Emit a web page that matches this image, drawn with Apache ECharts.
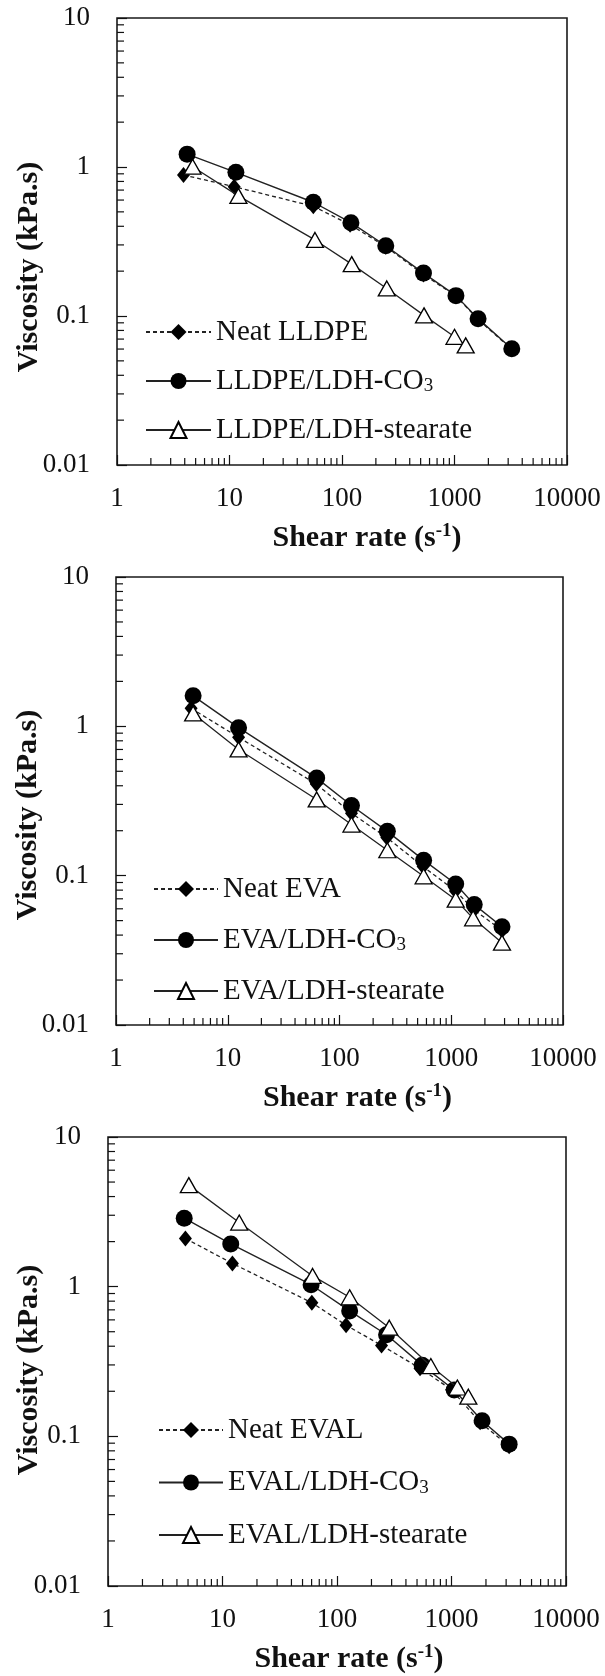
<!DOCTYPE html>
<html>
<head>
<meta charset="utf-8">
<script src="https://cdn.jsdelivr.net/npm/echarts@6.0.0/dist/echarts.min.js"></script>
<style>
  html, body { margin: 0; padding: 0; background: #ffffff; }
  #chart { width: 605px; height: 1676px; }
</style>
</head>
<body>
<div id="chart"></div>
<script>
// Steady-shear viscosity curves: shear rate (s^-1) vs viscosity (kPa.s)

// LLDPE system
const lldpeNeatRate = [3.9, 11.0, 55.6, 118, 245, 530, 1030, 1620, 3200];
const lldpeNeatVisc = [0.884, 0.738, 0.545, 0.41, 0.292, 0.19, 0.136, 0.095, 0.06];
const lldpeCo3Rate = [4.2, 11.4, 55.6, 120, 245, 530, 1030, 1620, 3230];
const lldpeCo3Visc = [1.22, 0.921, 0.58, 0.423, 0.296, 0.194, 0.137, 0.096, 0.0603];
const lldpeStRate = [4.7, 12.0, 57.5, 122, 250, 536, 1000, 1257];
const lldpeStVisc = [1.005, 0.64, 0.324, 0.223, 0.153, 0.101, 0.0725, 0.0635];

// EVA system
const evaNeatRate = [4.7, 12.5, 62, 128, 265, 560, 1090, 1600, 2850];
const evaNeatVisc = [1.32, 0.844, 0.411, 0.262, 0.18, 0.115, 0.079, 0.059, 0.043];
const evaCo3Rate = [4.9, 12.5, 62.5, 128, 268, 566, 1096, 1606, 2845];
const evaCo3Visc = [1.6, 0.98, 0.45, 0.295, 0.198, 0.127, 0.088, 0.064, 0.0455];
const evaStRate = [4.9, 12.5, 62.5, 128, 268, 566, 1096, 1570, 2845];
const evaStVisc = [1.22, 0.70, 0.324, 0.220, 0.148, 0.099, 0.069, 0.0518, 0.0356];

// EVAL system
const evalNeatRate = [4.74, 12.2, 60.3, 120, 245, 531, 1001, 1778, 3187];
const evalNeatVisc = [2.10, 1.43, 0.781, 0.553, 0.405, 0.285, 0.205, 0.124, 0.086];
const evalCo3Rate = [4.63, 11.8, 59.4, 129, 271, 554, 1056, 1850, 3187];
const evalCo3Visc = [2.87, 1.93, 1.03, 0.689, 0.477, 0.299, 0.204, 0.127, 0.0887];
const evalStRate = [5.08, 14.0, 61.2, 129, 286, 660, 1125, 1403];
const evalStVisc = [4.77, 2.68, 1.18, 0.849, 0.532, 0.295, 0.212, 0.184];

// Series names (legend text)
const lldpeNames = ['Neat LLDPE', 'LLDPE/LDH-CO3', 'LLDPE/LDH-stearate'];
const evaNames = ['Neat EVA', 'EVA/LDH-CO3', 'EVA/LDH-stearate'];
const evalNames = ['Neat EVAL', 'EVAL/LDH-CO3', 'EVAL/LDH-stearate'];

// Axis ticks
const xTickLabels = ['1', '10', '100', '1000', '10000'];
const yTickLabels = ['0.01', '0.1', '1', '10'];
const minorMultipliers = [2, 3, 4, 5, 6, 7, 8, 9];

const SERIF = "'Liberation Serif', 'Times New Roman', serif";
const INK = '#111111';

const xDecades = xTickLabels.slice(0, -1).map(Number);
const yDecades = yTickLabels.slice(0, -1).map(Number);
const xMin = Number(xTickLabels[0]), xMax = Number(xTickLabels[xTickLabels.length - 1]);
const yMin = Number(yTickLabels[0]), yMax = Number(yTickLabels[yTickLabels.length - 1]);

function pairs(xs, ys) { return xs.map((x, i) => [x, ys[i]]); }

// Minor tick marks on a log axis: kind 0 = bottom axis, kind 1 = left axis
const minorTickData = [];
xDecades.forEach(d => minorMultipliers.forEach(m => minorTickData.push([+(d * m).toPrecision(6), yMin, 0])));
yDecades.forEach(d => minorMultipliers.forEach(m => minorTickData.push([xMin, +(d * m).toPrecision(6), 1])));

function renderMinorTick(params, api) {
  const kind = api.value(2);
  const p = api.coord([api.value(0), api.value(1)]);
  const len = 7;
  const shape = kind === 0
    ? { x1: p[0], y1: p[1], x2: p[0], y2: p[1] - len }
    : { x1: p[0], y1: p[1], x2: p[0] + len, y2: p[1] };
  return { type: 'line', shape: shape, style: { stroke: INK, lineWidth: 1.2 } };
}

const panels = [
  { grid: { left: 117, top: 18, width: 450, height: 447 }, yTitle: [29, 267], xShift: 25,
    legend: { left: 145, top: 317, itemWidth: 65, itemGap: 19 }, names: lldpeNames,
    data: [pairs(lldpeNeatRate, lldpeNeatVisc), pairs(lldpeCo3Rate, lldpeCo3Visc), pairs(lldpeStRate, lldpeStVisc)] },
  { grid: { left: 116, top: 577, width: 447, height: 448 }, yTitle: [28, 815], xShift: 18,
    legend: { left: 153, top: 874, itemWidth: 64, itemGap: 21 }, names: evaNames,
    data: [pairs(evaNeatRate, evaNeatVisc), pairs(evaCo3Rate, evaCo3Visc), pairs(evaStRate, evaStVisc)] },
  { grid: { left: 108, top: 1137, width: 458, height: 449 }, yTitle: [29, 1370], xShift: 12,
    legend: { left: 158, top: 1415, itemWidth: 64, itemGap: 22.5 }, names: evalNames,
    data: [pairs(evalNeatRate, evalNeatVisc), pairs(evalCo3Rate, evalCo3Visc), pairs(evalStRate, evalStVisc)] }
];

const styles = [
  { symbol: 'diamond', symbolSize: [13, 16], itemStyle: { color: '#000', borderColor: '#000', borderWidth: 0 },
    lineStyle: { color: '#222', width: 1.3, type: [4, 3] } },
  { symbol: 'circle', symbolSize: 17, itemStyle: { color: '#000', borderColor: '#000', borderWidth: 0 },
    lineStyle: { color: '#222', width: 1.4, type: 'solid' } },
  { symbol: 'triangle', symbolSize: [17, 15], itemStyle: { color: '#ffffff', borderColor: '#000', borderWidth: 1.3 },
    lineStyle: { color: '#222', width: 1.3, type: 'solid' } }
];

const option = {
  animation: false,
  backgroundColor: '#ffffff',
  grid: [], xAxis: [], yAxis: [], series: [], legend: [], graphic: []
};

panels.forEach((pn, gi) => {
  option.grid.push(Object.assign({ show: true, borderColor: '#1a1a1a', borderWidth: 1.6,
    backgroundColor: 'transparent', containLabel: false }, pn.grid));

  option.xAxis.push({
    type: 'log', logBase: 10, gridIndex: gi, min: xMin, max: xMax,
    axisLine: { show: false },
    axisTick: { show: true, inside: true, length: 10, lineStyle: { color: INK, width: 1.2 } },
    splitLine: { show: false },
    axisLabel: { show: true, margin: 20, color: INK, fontFamily: SERIF, fontSize: 27,
      showMinLabel: true, showMaxLabel: true,
      formatter: v => xTickLabels.find(t => Math.abs(Number(t) - v) < 1e-6 * Number(t)) || '' },
    name: 'Shear rate (s{sup|-1})',
    nameLocation: 'middle', nameGap: 57,
    nameTextStyle: { fontFamily: SERIF, fontSize: 30, fontWeight: 'bold', color: INK,
      lineHeight: 32, padding: [0, 0, 0, pn.xShift * 2],
      rich: { sup: { fontFamily: SERIF, fontSize: 19, fontWeight: 'bold', color: INK,
        lineHeight: 16, verticalAlign: 'top' } } }
  });

  option.yAxis.push({
    type: 'log', logBase: 10, gridIndex: gi, min: yMin, max: yMax,
    axisLine: { show: false },
    axisTick: { show: true, inside: true, length: 10, lineStyle: { color: INK, width: 1.2 } },
    splitLine: { show: false },
    axisLabel: { show: true, margin: 27, color: INK, fontFamily: SERIF, fontSize: 27,
      showMinLabel: true, showMaxLabel: true,
      formatter: v => yTickLabels.find(t => Math.abs(Number(t) - v) < 1e-6 * Number(t)) || '' }
  });

  option.series.push({
    type: 'custom', xAxisIndex: gi, yAxisIndex: gi, data: minorTickData,
    encode: { x: 0, y: 1 }, renderItem: renderMinorTick, silent: true, clip: false, z: 5
  });

  pn.names.forEach((name, si) => {
    const st = styles[si];
    option.series.push({
      type: 'line', name: name, xAxisIndex: gi, yAxisIndex: gi,
      data: pn.data[si], showAllSymbol: true, symbol: st.symbol, symbolSize: st.symbolSize,
      itemStyle: st.itemStyle, lineStyle: st.lineStyle, z: 10 + si,
      emphasis: { disabled: true }
    });
  });

  option.legend.push({
    data: pn.names, orient: 'vertical', left: pn.legend.left, top: pn.legend.top,
    padding: 0, itemWidth: pn.legend.itemWidth, itemHeight: 20, itemGap: pn.legend.itemGap,
    selectedMode: false,
    formatter: n => n.replace('CO3', 'CO{sub|3}'),
    textStyle: { fontFamily: SERIF, fontSize: 29, color: INK, lineHeight: 30,
      rich: { sub: { fontFamily: SERIF, fontSize: 19, color: INK, lineHeight: 15, verticalAlign: 'bottom' } } }
  });

  option.graphic.push({
    type: 'text', x: pn.yTitle[0], y: pn.yTitle[1], rotation: Math.PI / 2,
    style: { text: 'Viscosity (kPa.s)', font: 'bold 30px ' + SERIF, fill: INK,
      align: 'center', verticalAlign: 'middle' }
  });
});

const chart = echarts.init(document.getElementById('chart'), null, { renderer: 'canvas' });
chart.setOption(option);
</script>
</body>
</html>
